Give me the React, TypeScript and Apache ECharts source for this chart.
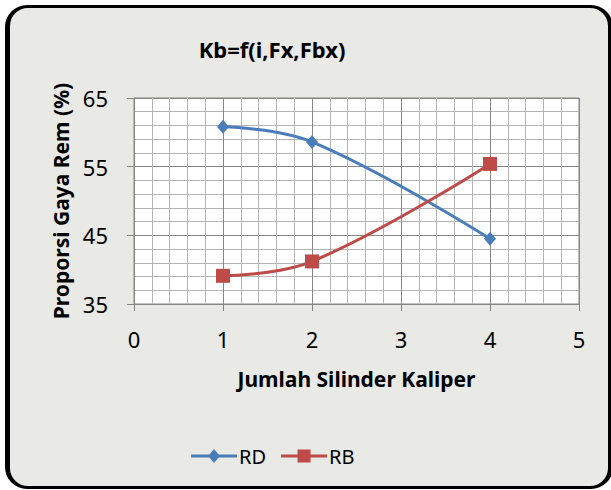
import React, { useEffect, useRef } from "react";
import * as echarts from "echarts";

const titleText = "Kb=f(i,Fx,Fbx)";
const xAxisName = "Jumlah Silinder Kaliper";
const yAxisName = "Proporsi Gaya Rem (%)";
const xValues = [1, 2, 4];
const rdValues = [60.8, 58.6, 44.5];
const rbValues = [39.1, 41.2, 55.4];
const seriesNames = ["RD", "RB"];

const FONT = "Noto Sans";
const RD_ICON = "path://M0,5.5L46,5.5L46,8.5L0,8.5Z M23,0L29,7L23,14L17,7Z";
const RB_ICON = "path://M0,5.5L46,5.5L46,8.5L0,8.5Z M16.5,0.5L29.5,0.5L29.5,13.5L16.5,13.5Z M0,0L0.01,0L0,14Z";

export default function App() {
  const ref = useRef<HTMLDivElement>(null);
  useEffect(() => {
    if (!ref.current) return;
    const chart = echarts.init(ref.current, null, { renderer: "svg" });
    const rd = xValues.map((x, i) => [x, rdValues[i]]);
    const rb = xValues.map((x, i) => [x, rbValues[i]]);
    chart.setOption({
      animation: false,
      backgroundColor: "#ffffff",
      textStyle: { fontFamily: FONT },
      graphic: [
        {
          type: "rect",
          z: -100,
          silent: true,
          shape: { x: 5, y: 5, width: 608, height: 484, r: 22 },
          style: { fill: "#000000" },
        },
        {
          type: "rect",
          z: -99,
          silent: true,
          shape: { x: 10, y: 8, width: 598, height: 478, r: 18 },
          style: { fill: "#e9e9e6" },
        },
      ],
      title: {
        text: titleText,
        left: 267,
        textAlign: "center",
        top: 33,
        textStyle: { fontFamily: FONT, fontSize: 22, fontWeight: "bold", color: "#000" },
      },
      legend: {
        data: [
          { name: seriesNames[0], icon: RD_ICON },
          { name: seriesNames[1], icon: RB_ICON },
        ],
        left: 186,
        top: 441,
        itemWidth: 46,
        itemHeight: 14,
        itemGap: 15,
        textStyle: { fontFamily: FONT, fontSize: 20, color: "#000", padding: [0, 0, 0, -3] },
      },
      grid: {
        left: 134,
        top: 98,
        width: 445,
        height: 206,
        show: true,
        backgroundColor: "#ffffff",
        borderColor: "#868686",
        borderWidth: 1,
      },
      xAxis: {
        type: "value",
        min: 0,
        max: 5,
        interval: 1,
        name: xAxisName,
        nameLocation: "middle",
        nameGap: 64,
        nameTextStyle: { fontFamily: FONT, fontSize: 21, fontWeight: "bold", color: "#000" },
        axisLine: { show: true, lineStyle: { color: "#868686", width: 1 } },
        axisTick: { show: true, length: 7, lineStyle: { color: "#868686" } },
        axisLabel: { margin: 24, fontFamily: FONT, fontSize: 22, color: "#000" },
        splitLine: { show: true, lineStyle: { color: "#868686", width: 1 } },
        minorTick: { show: false, splitNumber: 5 },
        minorSplitLine: { show: true, lineStyle: { color: "#b4b4b4", width: 1 } },
      },
      yAxis: {
        type: "value",
        min: 35,
        max: 65,
        interval: 10,
        name: yAxisName,
        nameLocation: "middle",
        nameGap: 58,
        nameTextStyle: { fontFamily: FONT, fontSize: 21, fontWeight: "bold", color: "#000" },
        axisLine: { show: true, lineStyle: { color: "#868686", width: 1 } },
        axisTick: { show: true, length: 7, lineStyle: { color: "#868686" } },
        axisLabel: { margin: 26, fontFamily: FONT, fontSize: 22, color: "#000" },
        splitLine: { show: true, lineStyle: { color: "#868686", width: 1 } },
        minorTick: { show: false, splitNumber: 5 },
        minorSplitLine: { show: true, lineStyle: { color: "#b4b4b4", width: 1 } },
      },
      series: [
        {
          name: seriesNames[0],
          type: "line",
          data: rd,
          smooth: 0.4,
          symbol: "diamond",
          symbolSize: [12, 14],
          lineStyle: { color: "#4a7ebb", width: 3 },
          itemStyle: { color: "#4a7ebb" },
        },
        {
          name: seriesNames[1],
          type: "line",
          data: rb,
          smooth: 0.4,
          symbol: "rect",
          symbolSize: 14,
          lineStyle: { color: "#be4b48", width: 3 },
          itemStyle: { color: "#be4b48" },
        },
      ],
    });
    return () => chart.dispose();
  }, []);
  return (
    <div
      ref={ref}
      style={{ position: "absolute", left: 0, top: 0, width: 611, height: 490 }}
    />
  );
}
